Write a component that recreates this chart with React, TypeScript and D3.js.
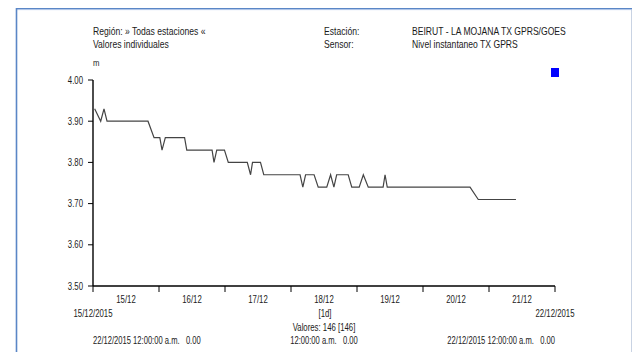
import React from "react";
import * as d3 from "d3";

// ---- data ----
const startDate = new Date(2015, 11, 15, 0, 0);
const endDate = new Date(2015, 11, 22, 0, 0);
// hours after 15/12/2015 00:00 for every vertex of the trace
const pointHours = [
  0.6, 2.8, 4.0, 5.1, 20.0, 22.2, 24.3, 25.1, 26.3, 33.3, 34.1, 43.3, 44.0, 45.0,
  47.8, 49.2, 56.1, 57.3, 58.0, 60.9, 62.1, 75.3, 76.3, 77.3, 80.4, 81.9, 85.0,
  86.4, 87.6, 88.6, 92.8, 94.1, 96.8, 98.3, 100.1, 105.5, 106.2, 107.0, 137.1,
  140.1, 153.8,
];
const pointValues = [
  3.93, 3.9, 3.93, 3.9, 3.9, 3.86, 3.86, 3.83, 3.86, 3.86, 3.83, 3.83, 3.8, 3.83,
  3.83, 3.8, 3.8, 3.77, 3.8, 3.8, 3.77, 3.77, 3.74, 3.77, 3.77, 3.74, 3.74,
  3.77, 3.74, 3.77, 3.77, 3.74, 3.74, 3.77, 3.74, 3.74, 3.77, 3.74, 3.74,
  3.71, 3.71,
];
const yTicks = [3.5, 3.6, 3.7, 3.8, 3.9, 4.0];
const dayLabels = ["15/12", "16/12", "17/12", "18/12", "19/12", "20/12", "21/12"];

const headerLeft = ["Región: » Todas estaciones «", "Valores individuales"];
const headerKeys = ["Estación:", "Sensor:"];
const headerValues = ["BEIRUT - LA MOJANA TX GPRS/GOES", "Nivel instantaneo TX GPRS"];
const unitLabel = "m";
const startLabel = "15/12/2015";
const endLabel = "22/12/2015";
const intervalLabel = "[1d]";
const countLabel = "Valores: 146 [146]";
const footerLeft = "22/12/2015 12:00:00 a.m.   0.00";
const footerMid = "12:00:00 a.m.   0.00";
const footerRight = "22/12/2015 12:00:00 a.m.   0.00";

const FONT = "'Liberation Sans', Arial, sans-serif";

function T({ x, y, s = 0.86, anchor = "start", size = 10, children }: any) {
  return (
    <text
      transform={`translate(${x},${y}) scale(${s},1)`}
      textAnchor={anchor}
      fontFamily={FONT}
      fontSize={size}
      fill="#1a1a1a"
      style={{ whiteSpace: "pre" }}
    >
      {children}
    </text>
  );
}

export default function App() {
  const W = 632;
  const H = 352;
  const x0 = 93,
    x1 = 555,
    yTop = 80,
    yBot = 286;
  const x = d3.scaleTime().domain([startDate, endDate]).range([x0, x1]);
  const y = d3.scaleLinear().domain([3.5, 4.0]).range([yBot, yTop]);

  const pts = pointHours.map((h, i) => ({
    t: new Date(startDate.getTime() + h * 3600 * 1000),
    v: pointValues[i],
  }));
  const line = d3
    .line<any>()
    .x((d) => x(d.t))
    .y((d) => y(d.v));

  const days = d3.timeDay.range(startDate, d3.timeDay.offset(endDate, 1));
  const noons = dayLabels.map((lab, i) => ({
    lab,
    t: d3.timeHour.offset(days[i], 12),
  }));

  const mid = (x0 + x1) / 2;
  const digitScale = 0.78;

  return (
    <svg
      width={W}
      height={H}
      style={{ position: "absolute", left: 0, top: 0, background: "#fff" }}
    >
      <rect x={0} y={0} width={W} height={H} fill="#fff" />
      {/* frame */}
      <line x1={631.5} x2={631.5} y1={8} y2={H} stroke="#c9d3e3" strokeWidth={1} />
      <line x1={16} x2={632} y1={8.5} y2={8.5} stroke="#5a86c6" strokeWidth={1.2} />
      <line x1={16} x2={632} y1={9.6} y2={9.6} stroke="#a9c1e6" strokeWidth={1} />
      <line x1={16.5} x2={16.5} y1={8} y2={H} stroke="#5a86c6" strokeWidth={1.6} />

      {/* header */}
      {headerLeft.map((s, i) => (
        <T key={"hl" + i} x={93} y={35 + i * 13}>
          {s}
        </T>
      ))}
      {headerKeys.map((s, i) => (
        <T key={"hk" + i} x={324} y={35 + i * 13}>
          {s}
        </T>
      ))}
      {headerValues.map((s, i) => (
        <T key={"hv" + i} x={412} y={35 + i * 13}>
          {s}
        </T>
      ))}
      <T x={93} y={66} size={9}>
        {unitLabel}
      </T>
      <rect x={551} y={68} width={8} height={9} fill="#0000ff" />

      {/* y axis */}
      <line x1={x0} x2={x0} y1={yTop} y2={yBot} stroke="#000" strokeWidth={1.4} />
      {yTicks.map((v) => (
        <g key={"yt" + v}>
          <line x1={x0 - 5} x2={x0} y1={y(v)} y2={y(v)} stroke="#000" strokeWidth={1} />
          <T x={83} y={y(v) + 3.5} anchor="end" s={digitScale}>
            {d3.format(".2f")(v)}
          </T>
        </g>
      ))}

      {/* x axis */}
      <line x1={x0} x2={x1} y1={yBot} y2={yBot} stroke="#000" strokeWidth={1.4} />
      {days.map((d, i) => (
        <line
          key={"xt" + i}
          x1={x(d)}
          x2={x(d)}
          y1={yBot}
          y2={yBot + 6}
          stroke="#000"
          strokeWidth={1}
        />
      ))}
      {noons.map((n) => (
        <T key={n.lab} x={x(n.t)} y={303} anchor="middle" s={digitScale}>
          {n.lab}
        </T>
      ))}
      <T x={x(startDate)} y={317} anchor="middle" s={digitScale}>
        {startLabel}
      </T>
      <T x={x(endDate)} y={317} anchor="middle" s={digitScale}>
        {endLabel}
      </T>
      <T x={mid + 1} y={317} anchor="middle" s={digitScale}>
        {intervalLabel}
      </T>
      <T x={mid} y={331} anchor="middle" s={0.78}>
        {countLabel}
      </T>
      <T x={x0} y={344} s={0.76}>
        {footerLeft}
      </T>
      <T x={mid} y={344} anchor="middle" s={0.76}>
        {footerMid}
      </T>
      <T x={x1} y={344} anchor="end" s={0.76}>
        {footerRight}
      </T>

      {/* data trace */}
      <path d={line(pts) || ""} fill="none" stroke="#444" strokeWidth={1.2} />
    </svg>
  );
}
